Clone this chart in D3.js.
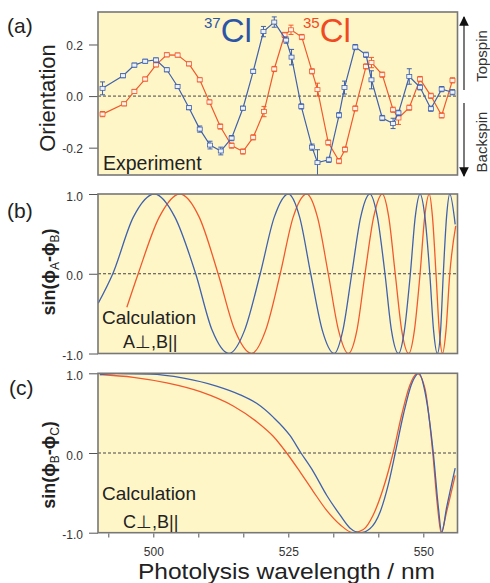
<!DOCTYPE html>
<html><head><meta charset="utf-8">
<script src="https://cdn.jsdelivr.net/npm/d3@7"></script>
<style>body{margin:0;background:#fff}text{font-family:"Liberation Sans",Arial,sans-serif}</style>
</head><body>
<script>
// ---------- data ----------
// Panel (a): experiment, 37Cl (blue)
const lam37 = [490.6,494.4,496.5,498.5,500.5,502.5,504.5,506.6,508.6,510.5,512.5,514.5,516.6,518.5,520.4,522.4,524.6,525.6,527.4,529.4,530.4,532.5,534.4,535.4,537.4,539.4,540.4,542.4,544.4,545.4,547.4,549.4,551.4,553.4,555.4];
const orient37 = [0.030,0.079,0.120,0.135,0.140,0.102,0.037,-0.045,-0.128,-0.190,-0.213,-0.163,-0.047,0.096,0.250,0.287,0.217,0.151,-0.040,-0.198,-0.258,-0.247,-0.074,0.033,0.190,0.160,0.063,-0.085,-0.106,-0.065,0.076,0.034,-0.049,0.027,0.015];
const err37 = [0.025,0.008,0.008,0.008,0.008,0.008,0.008,0.008,0.012,0.015,0.015,0.01,0.008,0.008,0.02,0.02,0.012,0.03,0.01,0.012,0.05,0.01,0.01,0.025,0.01,0.01,0.035,0.01,0.02,0.01,0.03,0.01,0.01,0.01,0.01];
// Panel (a): experiment, 35Cl (red)
const lam35 = [490.6,494.6,496.5,498.5,500.5,502.5,504.5,506.6,508.6,510.4,512.4,514.5,516.6,518.5,520.5,522.4,524.3,525.5,527.5,529.4,530.4,532.4,534.4,535.5,537.4,539.4,540.4,542.4,544.4,545.4,547.4,549.4,551.4,553.4,555.4];
const orient35 = [-0.070,-0.030,0.018,0.066,0.121,0.160,0.159,0.125,0.063,-0.023,-0.118,-0.192,-0.215,-0.160,-0.060,0.105,0.237,0.257,0.229,0.096,0.025,-0.180,-0.252,-0.207,-0.048,0.115,0.130,0.083,-0.053,-0.085,-0.045,0.066,0.001,-0.075,0.061];
const err35 = [0.01,0.008,0.008,0.008,0.008,0.008,0.008,0.008,0.008,0.008,0.01,0.01,0.01,0.01,0.02,0.01,0.01,0.018,0.01,0.01,0.025,0.01,0.01,0.01,0.01,0.01,0.02,0.01,0.01,0.025,0.01,0.01,0.01,0.01,0.01];

// Panel (b): calculation sin(phiA-phiB)
const lamB37 = [489.8,492.5,496.3,500.2,504.0,507.85,510.9,514.0,516.9,519.8,522.4,525.0,527.1,529.15,531.3,533.5,535.1,536.75,538.4,540.1,541.5,542.9,544.1,545.4,546.5,547.6,548.5,549.4,550.3,551.2,551.9,552.6,553.2,553.7,554.3,554.9,555.9];
const calcB37 = [-0.37,0,0.71,1,0.71,0,-0.71,-1,-0.71,0,0.71,1,0.71,0,-0.71,-1,-0.71,0,0.71,1,0.71,0,-0.71,-1,-0.71,0,0.71,1,0.71,0,-0.71,-1,-0.71,0,0.71,1,0.62];
const lamB35 = [495.1,497.2,501.1,504.9,508.5,512.0,515.1,518.2,520.8,523.5,525.9,528.4,530.4,532.4,534.3,536.1,537.7,539.2,540.8,542.4,543.6,544.8,546.0,547.3,548.35,549.4,550.25,551.1,551.7,552.35,552.95,553.55,554.2,554.9,556.0];
const calcB35 = [-0.42,0,0.71,1,0.71,0,-0.71,-1,-0.71,0,0.71,1,0.71,0,-0.71,-1,-0.71,0,0.71,1,0.71,0,-0.71,-1,-0.71,0,0.71,1,0.71,0,-0.71,-1,-0.71,0,0.6];

// Panel (c): calculation sin(phiB-phiC)
const lamC37 = [490.1,493.2,499.4,505.6,511.7,516.1,519.2,522.2,525.3,527.35,529.6,532.1,534.6,536.4,538.3,540.1,542.0,543.5,544.8,546.3,547.85,549.2,550.3,551.85,552.8,553.4,554.3,555.9];
const calcC37 = [0.985,0.995,0.99,0.94,0.84,0.73,0.62,0.45,0.22,0,-0.23,-0.53,-0.78,-0.94,-1,-0.95,-0.74,-0.40,0,0.48,0.87,1.0,0.77,0,-0.69,-1,-0.69,-0.19];
const lamC35 = [490.1,496.3,502.5,508.7,514.8,519.2,522.2,524.7,527.2,529.6,532.1,534.6,537.0,538.9,540.7,542.6,544.4,546.0,547.5,548.9,550.3,551.75,552.6,553.3,554.3,555.9];
const calcC35 = [0.985,0.95,0.88,0.77,0.59,0.39,0.21,0,-0.24,-0.48,-0.72,-0.90,-1,-0.96,-0.78,-0.44,0,0.48,0.85,1,0.81,0,-0.65,-1,-0.74,-0.28];

// ticks
const yTicksA = [-0.2, 0.0, 0.2];
const yTicksBC = [-1.0, 0.0, 1.0];
const xTicks = [491.667,500,508.333,516.667,525,533.333,541.667,550];
const xTickLabels = [500, 525, 550];

// ---------- drawing ----------
const BLUE = "#3f62ad", RED = "#f05a2c", BG = "#fff6c8", FRAME = "#777";
const FONT = '"Liberation Sans",Arial,sans-serif';
const svg = d3.select("body").append("svg").attr("width", 490).attr("height", 583);
const X0 = 98, X1 = 457.5;
const x = d3.scaleLinear().domain([489.76, 556.33]).range([X0, X1]);

function panel(id, top, bottom, domain, ticks, labelDy) {
  const y = d3.scaleLinear().domain(domain).range([bottom, top]);
  svg.append("rect").attr("x", X0).attr("y", top).attr("width", X1 - X0).attr("height", bottom - top).attr("fill", BG);
  svg.append("clipPath").attr("id", "clip" + id).append("rect")
    .attr("x", X0).attr("y", top).attr("width", X1 - X0).attr("height", bottom - top);
  svg.append("line").attr("x1", X0).attr("x2", X1).attr("y1", y(0)).attr("y2", y(0))
    .attr("stroke", "#444").attr("stroke-width", 1).attr("stroke-dasharray", "3,2");
  const ax = svg.append("g").attr("transform", `translate(${X0},0)`)
    .call(d3.axisLeft(y).tickValues(ticks).tickSize(9).tickPadding(6).tickFormat(d => d.toFixed(1)));
  ax.select(".domain").remove();
  ax.selectAll("line").attr("stroke", "#555");
  ax.selectAll("text").attr("font-size", 12).attr("fill", "#333").attr("dy", labelDy).style("font-family", FONT);
  return y;
}
function frame(top, bottom) {
  svg.append("rect").attr("x", X0).attr("y", top).attr("width", X1 - X0).attr("height", bottom - top)
    .attr("fill", "none").attr("stroke", FRAME).attr("stroke-width", 1.6);
}

// Panel (a)
const yA = panel("a", 12, 175, [-0.306, 0.326], yTicksA, "0.4em");
const gA = svg.append("g").attr("clip-path", "url(#clipa)");
function expSeries(lams, vals, errs, color, fillc) {
  const pts = lams.map((l, i) => ({l, v: vals[i], e: errs[i]}));
  gA.append("path").datum(pts).attr("fill", "none").attr("stroke", color).attr("stroke-width", 1.2)
    .attr("d", d3.line().x(d => x(d.l)).y(d => yA(d.v)));
  const eb = gA.append("g").selectAll("g").data(pts).join("g");
  eb.append("line").attr("x1", d => x(d.l)).attr("x2", d => x(d.l))
    .attr("y1", d => yA(d.v - d.e)).attr("y2", d => yA(d.v + d.e)).attr("stroke", color).attr("stroke-width", 1);
  eb.append("line").attr("x1", d => x(d.l) - 2.5).attr("x2", d => x(d.l) + 2.5)
    .attr("y1", d => yA(d.v + d.e)).attr("y2", d => yA(d.v + d.e)).attr("stroke", color).attr("stroke-width", 1);
  eb.append("line").attr("x1", d => x(d.l) - 2.5).attr("x2", d => x(d.l) + 2.5)
    .attr("y1", d => yA(d.v - d.e)).attr("y2", d => yA(d.v - d.e)).attr("stroke", color).attr("stroke-width", 1);
  gA.append("g").selectAll("rect").data(pts).join("rect")
    .attr("x", d => x(d.l) - 2.5).attr("y", d => yA(d.v) - 2).attr("width", 5).attr("height", 4)
    .attr("fill", fillc).attr("stroke", color).attr("stroke-width", 0.8);
}
expSeries(lam35, orient35, err35, RED, "#fff3ea");
expSeries(lam37, orient37, err37, BLUE, "#eef2ff");
frame(12, 175);

// Panel (b)
const yB = panel("b", 194, 353.5, [-1, 1], yTicksBC, "0.5em");
const gB = svg.append("g").attr("clip-path", "url(#clipb)");
function curve(g, y, lams, vals, color) {
  g.append("path").datum(lams.map((l, i) => [l, vals[i]])).attr("fill", "none")
    .attr("stroke", color).attr("stroke-width", 1.3)
    .attr("d", d3.line().curve(d3.curveMonotoneX).x(d => x(d[0])).y(d => y(d[1])));
}
curve(gB, yB, lamB35, calcB35, RED);
curve(gB, yB, lamB37, calcB37, BLUE);
frame(194, 353.5);

// Panel (c)
const yC = panel("c", 373.3, 532.7, [-1, 1], yTicksBC, "0.5em");
const gC = svg.append("g").attr("clip-path", "url(#clipc)");
curve(gC, yC, lamC35, calcC35, RED);
curve(gC, yC, lamC37, calcC37, BLUE);
frame(373.3, 532.7);

// bottom x axis
const xa = svg.append("g").attr("transform", "translate(0,533.5)")
  .call(d3.axisBottom(x).tickValues(xTicks).tickSize(4).tickPadding(10)
    .tickFormat(d => xTickLabels.some(t => Math.abs(t - d) < 0.01) ? String(Math.round(d)) : ""));
xa.select(".domain").remove();
xa.selectAll("line").attr("stroke", "#555");
xa.selectAll("text").attr("font-size", 12).attr("fill", "#333").style("font-family", FONT);

// ---------- text ----------
const T = "#222";
function txt(s, xx, yy, size, opts = {}) {
  const t = svg.append("text").attr("x", xx).attr("y", yy).attr("font-size", size).attr("fill", opts.fill || T).text(s);
  if (opts.len) t.attr("textLength", opts.len).attr("lengthAdjust", "spacingAndGlyphs");
  return t;
}
txt("(a)", 7, 33, 21);
txt("(b)", 7, 218, 21);
txt("(c)", 9, 395, 21);

svg.append("text").attr("transform", "translate(55,98) rotate(-90)").attr("text-anchor", "middle")
  .attr("font-size", 22).attr("fill", T).text("Orientation");

function sinTitle(cy, a, b) {
  const t = svg.append("text").attr("transform", `translate(55,${cy}) rotate(-90)`).attr("text-anchor", "middle")
    .attr("font-size", 18).attr("font-weight", "bold").attr("fill", T);
  t.append("tspan").text("sin(ϕ");
  t.append("tspan").attr("font-size", 12).attr("font-weight", "normal").attr("dy", 4).text(a);
  t.append("tspan").attr("dy", -4).text("-ϕ");
  t.append("tspan").attr("font-size", 12).attr("font-weight", "normal").attr("dy", 4).text(b);
  t.append("tspan").attr("dy", -4).text(")");
}
sinTitle(272, "A", "B");
sinTitle(465, "B", "C");

txt("Experiment", 103, 170, 19.5);
txt("Calculation", 102, 324, 19);
txt("A⊥,B||", 123, 348, 18);
txt("Calculation", 102, 500, 19);
txt("C⊥,B||", 123, 528, 18);

// isotope labels
const l37 = svg.append("text").attr("x", 204).attr("y", 42).attr("fill", "#2b55a6");
l37.append("tspan").attr("font-size", 15).attr("dy", -14).text("37");
l37.append("tspan").attr("font-size", 33).attr("dy", 14).text("Cl");
const l35 = svg.append("text").attr("x", 303).attr("y", 42).attr("fill", "#f04a22");
l35.append("tspan").attr("font-size", 15).attr("dy", -14).text("35");
l35.append("tspan").attr("font-size", 33).attr("dy", 14).text("Cl");

// Topspin / Backspin arrows
const defs = svg.append("defs");
defs.append("marker").attr("id", "ah").attr("viewBox", "0 0 10 10").attr("refX", 9).attr("refY", 5)
  .attr("markerWidth", 8).attr("markerHeight", 9).attr("orient", "auto-start-reverse")
  .append("path").attr("d", "M0,0 L10,5 L0,10 Z").attr("fill", "#111");
svg.append("line").attr("x1", 464).attr("x2", 464).attr("y1", 90).attr("y2", 17)
  .attr("stroke", "#222").attr("stroke-width", 1.2).attr("marker-end", "url(#ah)");
svg.append("line").attr("x1", 464).attr("x2", 464).attr("y1", 103).attr("y2", 176)
  .attr("stroke", "#222").attr("stroke-width", 1.2).attr("marker-end", "url(#ah)");
svg.append("text").attr("transform", "translate(487,56) rotate(-90)").attr("text-anchor", "middle")
  .attr("font-size", 15).attr("fill", "#333").text("Topspin");
svg.append("text").attr("transform", "translate(487,142) rotate(-90)").attr("text-anchor", "middle")
  .attr("font-size", 15).attr("fill", "#333").text("Backspin");

// x title
txt("Photolysis wavelength / nm", 138, 579, 22, {len: 297});
</script>
</body></html>
